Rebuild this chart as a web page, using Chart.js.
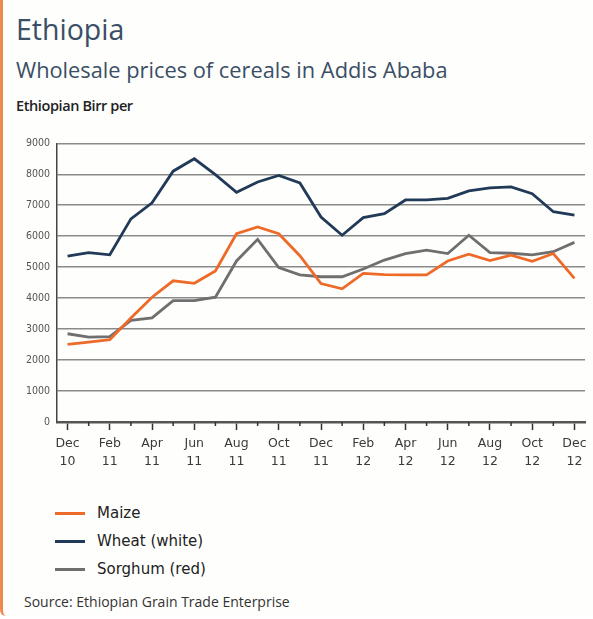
<!DOCTYPE html>
<html>
<head>
<meta charset="utf-8">
<script src="https://cdn.jsdelivr.net/npm/chart.js@4/dist/chart.umd.min.js"></script>
<style>
  html, body { margin: 0; padding: 0; background: #fff; }
  .card {
    position: relative; width: 590px; height: 616px;
    background: #fefefc; border-left: 3px solid #ee8a4e;
    border-bottom-left-radius: 6px; overflow: hidden;
    font-family: "Open Sans", sans-serif;
  }
  .title { position: absolute; left: 13px; top: 10px; font-size: 28.5px; color: #3a4f66; }
  .subtitle { position: absolute; left: 13px; top: 55px; font-size: 21.8px; color: #3a4f66; }
  .unit { position: absolute; left: 13px; top: 96px; font-size: 14.5px; font-weight: 600; color: #222; letter-spacing: -0.4px; }
  #chartWrap { position: absolute; left: -3px; top: 130px; width: 593px; height: 340px; }
  #legend { position: absolute; left: 52px; top: 499px; }
  .item { height: 28px; display: flex; align-items: center; font-family: "DejaVu Sans", sans-serif; font-size: 15px; color: #222; }
  .swatch { width: 30px; height: 3px; margin-right: 12px; }
  .source { position: absolute; left: 21px; top: 592px; font-size: 14px; color: #333; letter-spacing: 0px; }
</style>
</head>
<body>
<div class="card">
  <div class="title">Ethiopia</div>
  <div class="subtitle">Wholesale prices of cereals in Addis Ababa</div>
  <div class="unit">Ethiopian Birr per</div>
  <div id="chartWrap"><canvas id="priceChart"></canvas></div>
  <div id="legend"></div>
  <div class="source">Source: Ethiopian Grain Trade Enterprise</div>
</div>
<script>
const months = [
  ['Dec', '10'], ['Jan', '11'], ['Feb', '11'], ['Mar', '11'], ['Apr', '11'], ['May', '11'],
  ['Jun', '11'], ['Jul', '11'], ['Aug', '11'], ['Sep', '11'], ['Oct', '11'], ['Nov', '11'],
  ['Dec', '11'], ['Jan', '12'], ['Feb', '12'], ['Mar', '12'], ['Apr', '12'], ['May', '12'],
  ['Jun', '12'], ['Jul', '12'], ['Aug', '12'], ['Sep', '12'], ['Oct', '12'], ['Nov', '12'],
  ['Dec', '12']
];
const maize = [2510, 2580, 2660, 3360, 4030, 4560, 4480, 4880, 6080, 6300, 6080, 5370, 4470,
  4300, 4800, 4760, 4750, 4750, 5200, 5420, 5210, 5390, 5190, 5440, 4640];
const wheat = [5360, 5470, 5400, 6560, 7080, 8100, 8500, 7990, 7420, 7750, 7960, 7720, 6620,
  6030, 6600, 6730, 7170, 7170, 7220, 7460, 7560, 7590, 7370, 6790, 6680];
const sorghum = [2850, 2740, 2760, 3280, 3360, 3920, 3920, 4030, 5200, 5900, 4990, 4750, 4690,
  4690, 4940, 5230, 5440, 5550, 5440, 6030, 5470, 5450, 5400, 5500, 5800];
const seriesNames = ['Maize', 'Wheat (white)', 'Sorghum (red)'];
const seriesColors = ['#ee6a28', '#213a57', '#6f6f6f'];
const yTicks = [0, 1000, 2000, 3000, 4000, 5000, 6000, 7000, 8000, 9000];

// minor month ticks drawn shorter than the labelled ones
const minorTicks = {
  id: 'minorTicks',
  afterDraw(chart) {
    const x = chart.scales.x, ctx = chart.ctx, bottom = chart.chartArea.bottom;
    ctx.save();
    ctx.strokeStyle = '#333';
    ctx.lineWidth = 1.5;
    months.forEach(function (m, i) {
      if (i % 2 === 0) return;
      const px = x.getPixelForValue(i);
      ctx.beginPath();
      ctx.moveTo(px, bottom);
      ctx.lineTo(px, bottom + 4);
      ctx.stroke();
    });
    ctx.restore();
  }
};

const datasets = [maize, wheat, sorghum].map(function (d, i) {
  return {
    label: seriesNames[i],
    data: d,
    borderColor: seriesColors[i],
    borderWidth: 2.8,
    pointRadius: 0,
    tension: 0,
    fill: false
  };
});

new Chart(document.getElementById('priceChart'), {
  type: 'line',
  data: { labels: months, datasets: datasets },
  options: {
    responsive: true,
    maintainAspectRatio: false,
    animation: false,
    layout: { padding: { left: 0, right: 8, top: 12, bottom: 0 } },
    plugins: { legend: { display: false }, tooltip: { enabled: false } },
    scales: {
      x: {
        offset: true,
        afterFit: function (s) { s.height = 48; },
        grid: {
          drawOnChartArea: false,
          drawTicks: true,
          tickLength: 8,
          tickWidth: 1.5,
          tickColor: function (c) { return c.index % 2 === 0 ? '#333' : 'rgba(0,0,0,0)'; }
        },
        border: { color: '#555', width: 2.5 },
        ticks: {
          autoSkip: false,
          maxRotation: 0,
          padding: 5,
          color: '#3a3a3a',
          font: { family: 'DejaVu Sans', size: 12.5, lineHeight: 1.4 },
          callback: function (v, i) { return i % 2 === 0 ? months[i] : ''; }
        }
      },
      y: {
        min: 0,
        max: 9000,
        afterFit: function (s) { s.width = 57; },
        afterBuildTicks: function (s) { s.ticks = yTicks.map(function (v) { return { value: v }; }); },
        grid: { color: '#8a8a8a', lineWidth: 1.5, drawTicks: false },
        border: { color: '#444', width: 1.5 },
        ticks: {
          padding: 7,
          color: '#555',
          font: { family: 'DejaVu Sans Condensed', size: 10.5 },
          callback: function (v) { return String(v); }
        }
      }
    }
  },
  plugins: [minorTicks]
});

const legend = document.getElementById('legend');
seriesNames.forEach(function (name, i) {
  const row = document.createElement('div');
  row.className = 'item';
  row.innerHTML = '<span class="swatch" style="background:' + seriesColors[i] + '"></span>' + name;
  legend.appendChild(row);
});
</script>
</body>
</html>
